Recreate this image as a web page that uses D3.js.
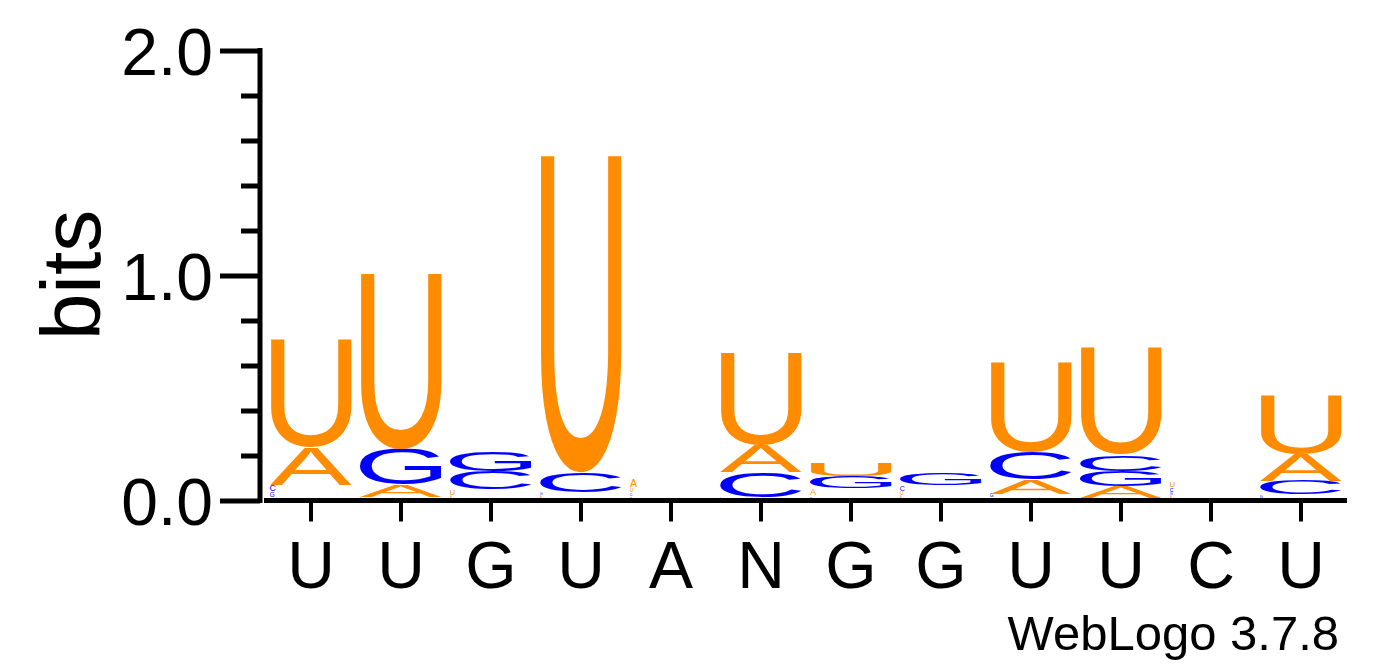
<!DOCTYPE html>
<html>
<head>
<meta charset="utf-8">
<script src="https://cdn.jsdelivr.net/npm/d3@7"></script>
<style>
  html, body { margin: 0; padding: 0; background: #fff; }
  svg { display: block; font-family: "Liberation Sans", Arial, Helvetica, sans-serif; }
</style>
</head>
<body>
<div id="logo-container"></div>
<script>
// sequence positions (x axis labels)
const positions = ['U', 'U', 'G', 'U', 'A', 'N', 'G', 'G', 'U', 'U', 'C', 'U'];

// information content per letter, in bits
const bitsA = [0.164, 0.053, 0.010, 0.010, 0.040, 0.120, 0.035, 0.010, 0.062, 0.053, 0.010, 0.120];
const bitsC = [0.035, 0.006, 0.080, 0.089, 0.015, 0.111, 0.010, 0.028, 0.120, 0.071, 0.020, 0.062];
const bitsG = [0.025, 0.156, 0.089, 0.015, 0.008, 0.004, 0.054, 0.053, 0.020, 0.067, 0.015, 0.015];
const bitsU = [0.480, 0.778, 0.030, 1.409, 0.020, 0.409, 0.058, 0.020, 0.396, 0.476, 0.030, 0.258];

const yTicks = [0, 1, 2];
const yMinorTicks = [0.2, 0.4, 0.6, 0.8, 1.2, 1.4, 1.6, 1.8];

const colors = { A: '#ff8c00', U: '#ff8c00', C: '#0000ff', G: '#0000ff' };

const drawLogo = () => {
  const width = 1392;
  const height = 667;

  const svg = d3
    .select('#logo-container')
    .append('svg')
    .attr('width', width)
    .attr('height', height);

  const x = d3.scaleBand()
    .domain(d3.range(positions.length))
    .range([266, 1346])
    .paddingInner(0.09)
    .paddingOuter(0.045);

  const y = d3.scaleLinear().domain([0, 2]).range([500.5, 50.5]);
  const base = 2.5; // letters sit on top of the axis line

  // measure real glyph bounds so each letter fills its box
  const ctx = document.createElement('canvas').getContext('2d');
  ctx.font = '100px "Liberation Sans", Arial, sans-serif';
  const glyph = {};
  ['A', 'C', 'G', 'U'].forEach((l) => {
    const m = ctx.measureText(l);
    glyph[l] = {
      left: m.actualBoundingBoxLeft,
      w: m.actualBoundingBoxLeft + m.actualBoundingBoxRight,
      asc: m.actualBoundingBoxAscent,
      h: m.actualBoundingBoxAscent + m.actualBoundingBoxDescent,
    };
  });

  const stacks = positions.map((p, i) => {
    const letters = [
      { letter: 'A', bits: bitsA[i] },
      { letter: 'C', bits: bitsC[i] },
      { letter: 'G', bits: bitsG[i] },
      { letter: 'U', bits: bitsU[i] },
    ].sort((a, b) => a.bits - b.bits);
    let acc = 0;
    letters.forEach((d) => {
      d.y0 = acc;
      acc += d.bits;
      d.y1 = acc;
      d.pos = i;
    });
    return letters;
  });

  svg
    .append('g')
    .selectAll('.letter')
    .data(stacks.flat())
    .enter()
    .append('text')
    .attr('class', 'letter')
    .attr('font-size', 100)
    .attr('fill', (d) => colors[d.letter])
    .attr('transform', (d) => {
      const g = glyph[d.letter];
      const top = y(d.y1) - base;
      const h = y(d.y0) - y(d.y1);
      const sy = (h * 0.8) / g.h;
      // very small letters come out as tiny glyphs at the left of the column
      if (h < 10) {
        return `translate(${x(d.pos)},${top + h * 0.1}) scale(${sy},${sy}) translate(${g.left},${g.asc})`;
      }
      const sx = x.bandwidth() / g.w;
      return `translate(${x(d.pos)},${top}) scale(${sx},${h / g.h}) translate(${g.left},${g.asc})`;
    })
    .text((d) => d.letter);

  // y axis
  svg.append('g')
    .attr('transform', 'translate(260,0)')
    .call(d3.axisLeft(y).tickValues(yTicks).tickFormat(d3.format('.1f')).tickSize(40).tickSizeOuter(0).tickPadding(7))
    .call((g) => g.select('.domain').attr('stroke-width', 5).attr('d', 'M0,48V503'))
    .call((g) => g.selectAll('.tick line').attr('stroke-width', 5))
    .call((g) => g.selectAll('.tick text').attr('font-size', 66).attr('font-family', null).attr('dy', 24));

  svg.append('g')
    .attr('transform', 'translate(260,0)')
    .call(d3.axisLeft(y).tickValues(yMinorTicks).tickFormat('').tickSize(19).tickSizeOuter(0))
    .call((g) => g.select('.domain').remove())
    .call((g) => g.selectAll('.tick line').attr('stroke-width', 5));

  svg
    .append('text')
    .attr('transform', 'translate(100,275) rotate(-90)')
    .attr('text-anchor', 'middle')
    .attr('font-size', 84)
    .text('bits');

  // x axis
  const xAxis = d3.axisBottom(x).tickFormat((i) => positions[i]).tickSize(21).tickSizeOuter(0);
  svg.append('g')
    .attr('transform', `translate(0,${y(0)})`)
    .call(xAxis)
    .call((g) => g.select('.domain').attr('stroke-width', 5).attr('d', 'M264,0H1347'))
    .call((g) => g.selectAll('.tick line').attr('stroke-width', 4))
    .call((g) => g.selectAll('.tick text').attr('font-size', 66).attr('font-family', null).attr('y', 87.5).attr('dy', 0));

  svg
    .append('text')
    .attr('x', 1339)
    .attr('y', 650)
    .attr('text-anchor', 'end')
    .attr('font-size', 49)
    .text('WebLogo 3.7.8');
};

drawLogo();
</script>
</body>
</html>
